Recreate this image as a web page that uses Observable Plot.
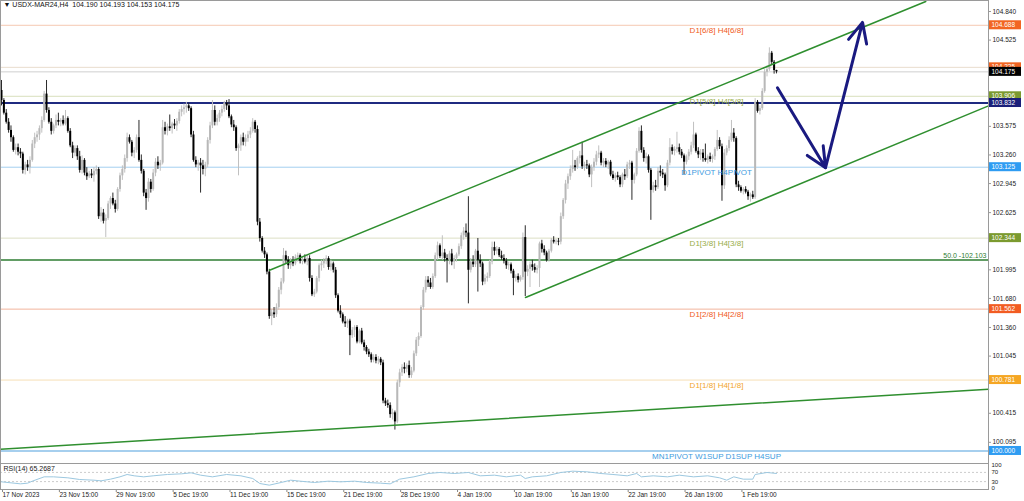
<!DOCTYPE html>
<html><head><meta charset="utf-8">
<script src="https://cdn.jsdelivr.net/npm/d3@7"></script>
<script src="https://cdn.jsdelivr.net/npm/@observablehq/plot@0.6"></script>
<style>
body{margin:0;background:#fff;}
#chart{position:relative;width:1024px;height:501px;overflow:hidden;background:#fff;}
#chart svg{display:block;}
</style></head><body><div id="chart"></div>
<script>
// ---- DATA ----
const symbolTitle = "\u25BC USDX-MAR24,H4\u00a0 104.190 104.193 104.153 104.175";
// H4 candles [open, high, low, close], bar index = position in array
const candles = [
[103.97,104.08,103.80,103.86],[103.86,103.88,103.70,103.72],[103.72,103.76,103.60,103.62],[103.62,103.66,103.50,103.53],[103.53,103.58,103.40,103.45],
[103.45,103.47,103.29,103.31],[103.31,103.38,103.26,103.34],[103.34,103.38,103.25,103.29],[103.29,103.33,103.22,103.27],[103.27,103.29,103.05,103.09],
[103.09,103.18,103.04,103.15],[103.15,103.20,103.08,103.12],[103.12,103.24,103.05,103.20],[103.20,103.42,103.18,103.38],[103.38,103.50,103.33,103.45],
[103.45,103.52,103.40,103.48],[103.48,103.58,103.42,103.55],[103.55,103.68,103.50,103.64],[103.64,103.96,103.62,103.93],[103.93,104.08,103.72,103.75],
[103.75,103.78,103.60,103.62],[103.62,103.66,103.48,103.52],[103.52,103.60,103.49,103.58],[103.58,103.70,103.55,103.64],[103.64,103.72,103.58,103.62],
[103.62,103.66,103.57,103.64],[103.64,103.69,103.58,103.60],[103.60,103.75,103.58,103.66],[103.66,103.68,103.50,103.52],[103.52,103.55,103.34,103.36],
[103.36,103.40,103.22,103.28],[103.28,103.36,103.24,103.33],[103.33,103.36,103.20,103.24],[103.24,103.30,103.06,103.09],[103.09,103.25,103.05,103.20],
[103.20,103.22,103.03,103.06],[103.06,103.12,102.98,103.02],[103.02,103.08,103.00,103.05],[103.05,103.10,103.00,103.03],[103.03,103.12,102.96,103.08],
[103.08,103.14,103.04,103.10],[103.10,103.12,102.55,102.58],[102.58,102.68,102.52,102.62],[102.62,102.66,102.50,102.53],[102.53,102.60,102.35,102.56],
[102.56,102.75,102.54,102.72],[102.72,102.80,102.66,102.78],[102.78,102.84,102.70,102.72],[102.72,102.76,102.62,102.66],[102.66,102.90,102.64,102.88],
[102.88,103.06,102.85,103.03],[103.03,103.14,102.98,103.10],[103.10,103.26,103.06,103.22],[103.22,103.50,103.18,103.45],[103.45,103.48,103.38,103.40],
[103.40,103.42,103.24,103.28],[103.28,103.34,103.22,103.31],[103.31,103.48,103.28,103.45],[103.45,103.64,103.18,103.20],[103.20,103.26,103.05,103.08],
[103.08,103.10,102.80,102.84],[102.84,102.88,102.65,102.78],[102.78,103.00,102.74,102.96],[102.96,102.99,102.84,102.88],[102.88,103.10,102.86,103.06],
[103.06,103.22,103.02,103.18],[103.18,103.24,103.10,103.14],[103.14,103.20,103.08,103.17],[103.17,103.64,103.15,103.56],[103.56,103.62,103.48,103.52],
[103.52,103.60,103.47,103.57],[103.57,103.70,103.52,103.55],[103.55,103.62,103.49,103.60],[103.60,103.65,103.54,103.58],[103.58,103.66,103.52,103.63],
[103.63,103.76,103.60,103.73],[103.73,103.80,103.68,103.76],[103.76,103.82,103.70,103.78],[103.78,103.84,103.72,103.80],[103.80,103.83,103.74,103.77],
[103.77,103.79,103.45,103.48],[103.48,103.52,103.18,103.20],[103.20,103.24,103.12,103.15],[103.15,103.20,103.08,103.17],[103.17,103.22,102.84,103.14],
[103.14,103.20,103.04,103.10],[103.10,103.18,103.02,103.15],[103.15,103.45,103.12,103.42],[103.42,103.62,103.38,103.58],[103.58,103.86,103.55,103.75],
[103.75,103.80,103.58,103.62],[103.62,103.70,103.58,103.66],[103.66,103.75,103.62,103.72],[103.72,103.80,103.68,103.76],[103.76,103.85,103.73,103.83],
[103.83,103.86,103.75,103.80],[103.80,103.87,103.66,103.68],[103.68,103.70,103.56,103.59],[103.59,103.64,103.52,103.56],[103.56,103.58,103.30,103.33],
[103.33,103.38,103.03,103.36],[103.36,103.48,103.30,103.45],[103.45,103.50,103.36,103.40],[103.40,103.48,103.35,103.44],[103.44,103.52,103.40,103.48],
[103.48,103.56,103.44,103.52],[103.52,103.66,103.50,103.62],[103.62,103.64,103.50,103.54],[103.54,103.58,102.48,102.52],[102.52,102.56,102.30,102.34],
[102.34,102.36,102.18,102.20],[102.20,102.24,102.12,102.16],[102.16,102.18,101.94,101.97],[101.97,102.00,101.45,101.48],[101.48,101.56,101.38,101.52],
[101.52,101.58,101.46,101.50],[101.50,101.62,101.47,101.58],[101.58,101.80,101.55,101.77],[101.77,101.90,101.72,101.86],[101.86,102.23,101.84,102.15],
[102.15,102.20,102.06,102.10],[102.10,102.14,102.00,102.04],[102.04,102.12,102.00,102.08],[102.08,102.14,102.03,102.06],[102.06,102.16,102.04,102.13],
[102.13,102.18,102.08,102.15],[102.15,102.17,102.06,102.09],[102.09,102.14,102.05,102.11],[102.11,102.16,102.06,102.08],[102.08,102.15,102.04,102.12],
[102.12,102.15,101.86,101.90],[101.90,101.93,101.70,101.72],[101.72,101.78,101.69,101.75],[101.75,101.92,101.73,101.90],[101.90,102.06,101.86,102.04],
[102.04,102.10,101.98,102.06],[102.06,102.12,102.01,102.09],[102.09,102.15,102.05,102.12],[102.12,102.14,101.99,102.02],[102.02,102.10,101.98,102.06],
[102.06,102.08,101.96,101.99],[101.99,102.02,101.68,101.71],[101.71,101.73,101.52,101.54],[101.54,101.60,101.46,101.50],[101.50,101.52,101.40,101.42],
[101.42,101.48,101.36,101.40],[101.40,101.45,101.35,101.43],[101.43,101.45,101.05,101.27],[101.27,101.36,101.24,101.33],[101.33,101.38,101.25,101.36],
[101.36,101.38,101.18,101.20],[101.20,101.34,101.18,101.32],[101.32,101.35,101.17,101.19],[101.19,101.22,101.10,101.14],[101.14,101.16,101.06,101.09],
[101.09,101.12,101.03,101.06],[101.06,101.08,100.97,101.00],[101.00,101.06,100.97,101.03],[101.03,101.06,100.96,100.99],[100.99,101.04,100.95,101.01],
[101.01,101.03,100.94,100.97],[100.97,101.00,100.52,100.55],[100.55,100.58,100.49,100.52],[100.52,100.56,100.47,100.50],[100.50,100.53,100.36,100.40],
[100.40,100.46,100.34,100.42],[100.42,100.44,100.23,100.32],[100.32,100.78,100.30,100.75],[100.75,100.90,100.70,100.86],[100.86,100.95,100.82,100.92],
[100.92,100.97,100.85,100.90],[100.90,100.96,100.86,100.94],[100.94,100.99,100.80,100.83],[100.83,100.92,100.80,100.88],[100.88,101.10,100.86,101.07],
[101.07,101.25,101.04,101.22],[101.22,101.30,101.15,101.26],[101.26,101.60,101.24,101.58],[101.58,101.80,101.55,101.77],[101.77,101.92,101.74,101.88],
[101.88,101.92,101.80,101.85],[101.85,101.90,101.78,101.80],[101.80,101.95,101.78,101.92],[101.92,102.18,101.90,102.15],[102.15,102.30,102.10,102.26],
[102.26,102.28,102.12,102.14],[102.14,102.37,102.10,102.18],[102.18,102.22,102.08,102.12],[102.12,102.16,101.85,102.10],[102.10,102.20,102.05,102.17],
[102.17,102.22,102.04,102.08],[102.08,102.15,102.00,102.12],[102.12,102.18,102.08,102.16],[102.16,102.28,102.14,102.25],[102.25,102.40,102.22,102.37],
[102.37,102.46,102.32,102.42],[102.42,102.50,102.35,102.40],[102.40,102.80,101.62,101.99],[101.99,102.12,101.96,102.08],[102.08,102.15,102.02,102.05],
[102.05,102.22,102.02,102.20],[102.20,102.34,101.75,102.10],[102.10,102.16,102.02,102.06],[102.06,102.08,101.82,101.86],[101.86,101.94,101.83,101.90],
[101.90,101.96,101.86,101.92],[101.92,102.10,101.90,102.08],[102.08,102.30,102.05,102.24],[102.24,102.30,102.15,102.20],[102.20,102.25,102.16,102.22],
[102.22,102.24,102.13,102.15],[102.15,102.20,102.10,102.12],[102.12,102.16,102.06,102.09],[102.09,102.12,102.00,102.04],[102.04,102.08,101.99,102.05],
[102.05,102.07,101.95,101.98],[101.98,102.00,101.71,101.90],[101.90,101.94,101.86,101.92],[101.92,101.95,101.85,101.88],[101.88,101.93,101.86,101.91],
[101.91,102.40,101.88,102.35],[102.35,102.48,101.70,101.97],[101.97,102.04,101.92,102.00],[102.00,102.08,101.80,102.05],[102.05,102.10,101.98,102.02],
[102.02,102.06,101.96,101.99],[101.99,102.04,101.95,102.01],[102.01,102.30,101.80,102.28],[102.28,102.32,102.18,102.22],[102.22,102.26,102.15,102.18],
[102.18,102.20,102.08,102.10],[102.10,102.22,102.08,102.20],[102.20,102.34,102.18,102.32],[102.32,102.36,102.28,102.30],[102.30,102.33,102.27,102.31],
[102.31,102.34,102.26,102.30],[102.30,102.62,102.27,102.58],[102.58,102.78,102.55,102.76],[102.76,102.98,102.72,102.94],[102.94,103.05,102.88,103.02],
[103.02,103.14,102.98,103.10],[103.10,103.31,103.06,103.14],[103.14,103.20,103.08,103.12],[103.12,103.24,103.10,103.22],[103.22,103.30,103.16,103.25],
[103.25,103.40,103.10,103.13],[103.13,103.18,103.08,103.15],[103.15,103.20,103.10,103.14],[103.14,103.16,103.01,103.04],[103.04,103.15,102.90,103.12],
[103.12,103.22,103.08,103.18],[103.18,103.30,103.14,103.26],[103.26,103.36,103.22,103.28],[103.28,103.30,103.14,103.17],[103.17,103.22,103.12,103.19],
[103.19,103.22,103.12,103.15],[103.15,103.20,103.10,103.18],[103.18,103.20,103.02,103.04],[103.04,103.08,102.98,103.00],[103.00,103.06,102.96,103.03],
[103.03,103.07,102.98,103.01],[103.01,103.03,102.90,102.93],[102.93,103.06,102.90,103.04],[103.04,103.10,102.98,103.02],[103.02,103.18,103.00,103.15],
[103.15,103.20,103.10,103.17],[103.17,103.19,102.76,102.98],[102.98,103.06,102.94,103.04],[103.04,103.33,103.02,103.30],[103.30,103.56,103.28,103.52],
[103.52,103.58,103.28,103.31],[103.31,103.34,103.18,103.22],[103.22,103.28,103.16,103.24],[103.24,103.26,103.06,103.09],[103.09,103.11,102.54,102.87],
[102.87,102.96,102.84,102.92],[102.92,102.98,102.86,102.90],[102.90,103.12,102.88,103.08],[103.08,103.14,103.02,103.06],[103.06,103.10,103.00,103.04],
[103.04,103.06,102.86,102.92],[102.92,103.20,102.90,103.17],[103.17,103.44,103.14,103.34],[103.34,103.37,103.26,103.30],[103.30,103.35,103.25,103.32],
[103.32,103.51,103.28,103.34],[103.34,103.38,103.26,103.29],[103.29,103.32,103.22,103.25],[103.25,103.27,103.04,103.18],[103.18,103.26,103.15,103.24],
[103.24,103.32,103.20,103.29],[103.29,103.40,103.26,103.36],[103.36,103.62,103.33,103.48],[103.48,103.50,103.28,103.30],[103.30,103.34,103.22,103.26],
[103.26,103.32,103.20,103.28],[103.28,103.32,103.18,103.22],[103.22,103.38,103.18,103.20],[103.20,103.26,103.16,103.24],[103.24,103.28,103.18,103.21],
[103.21,103.26,103.17,103.24],[103.24,103.34,103.20,103.32],[103.32,103.53,103.30,103.42],[103.42,103.45,103.32,103.35],[103.35,103.38,102.75,102.92],
[102.92,103.32,102.88,103.28],[103.28,103.36,103.25,103.33],[103.33,103.46,103.30,103.42],[103.42,103.64,103.40,103.50],[103.50,103.55,103.40,103.44],
[103.44,103.46,102.90,102.93],[102.93,102.97,102.86,102.90],[102.90,102.92,102.84,102.86],[102.86,102.90,102.82,102.88],[102.88,102.91,102.83,102.85],
[102.85,102.87,102.76,102.80],[102.80,102.84,102.74,102.82],[102.82,102.86,102.77,102.79],[102.79,103.88,102.77,103.84],[103.84,103.86,103.72,103.74],
[103.74,103.80,103.70,103.77],[103.77,103.99,103.75,103.96],[103.96,104.20,103.94,104.17],[104.17,104.24,104.12,104.20],[104.20,104.44,104.18,104.38],
[104.38,104.40,104.25,104.28],[104.28,104.30,104.15,104.19],[104.190,104.193,104.153,104.175]
];
const dateTicks = [0,24,48,72,96,120,144,168,192,216,240,264,288,312];
const dateLabels = ["17 Nov 2023","23 Nov 15:00","29 Nov 19:00","5 Dec 19:00","11 Dec 19:00","15 Dec 19:00","21 Dec 19:00","28 Dec 19:00","4 Jan 19:00","10 Jan 19:00","16 Jan 19:00","22 Jan 19:00","26 Jan 19:00","1 Feb 19:00"];
const priceTicks = [104.840,104.525,103.575,103.260,102.945,102.625,101.995,101.680,101.360,101.045,100.415,100.095];
const levelLines = [104.688,104.225,104.175,103.906,103.832,103.125,102.344,102.103,101.562,100.781,100.000];
const boxValues = [104.688,104.225,104.175,103.906,103.832,103.125,102.344,101.562,100.781,100.000];
const levelTexts = ["D1[6/8] H4[6/8]","D1[5/8] H4[5/8]","D1PIVOT H4PIVOT","D1[3/8] H4[3/8]","D1[2/8] H4[2/8]","D1[1/8] H4[1/8]","MN1PIVOT W1SUP D1SUP H4SUP"];
const levelTextValues = [104.688,103.906,103.125,102.344,101.562,100.781,100.000];
const levelTextBar = 301.7;
const fiboLevel = 102.103, fiboText = "50.0 -102.103";
// trend lines: [bar, price] anchors
const upperChannel = [[113.1,101.99],[390.0,104.95]];
const lowerChannel = [[221.1,101.69],[416.46,103.80]];
const longSupport = [[-0.42,100.02],[416.46,100.68]];
const forecastPath = [[327.4,104.00],[347.7,103.12],[363.3,104.72]];
// RSI(14)
const rsiLabel = "RSI(14) 65.2687";
const rsiBars = [0,4,8,11,13,18,22,28,33,39,42,46,50,53,56,60,64,70,76,80,84,89,95,101,106,109,113,118,122,126,132,138,143,149,154,160,164,168,174,180,185,191,197,202,208,213,219,221,224,230,236,241,247,253,258,264,268,270,275,281,286,292,298,303,306,309,313,317,318,323,327];
const rsiValues = [29,24.6,20.3,23.2,31.9,50.7,50.7,46.4,39.1,36.2,33.3,40.6,50.7,60.9,55.1,50.7,55.1,60.9,63.8,68.1,58,50.7,60.9,55.1,43.5,21.7,14.5,26.1,36.2,31.9,26.1,31.9,29,31.9,26.1,23.2,20.3,40.6,50.7,65.2,69.6,65.2,69.6,55.1,58,50.7,58,43.5,50.7,55.1,69.6,75.4,72.5,65.2,60.9,55.1,65.2,50.7,55.1,50.7,58,50.7,55.1,46.4,36.2,50.7,40.6,40.6,60.9,69.6,65.3];
const rsiLevels = [30,70];
const rsiTicks = [0,30,70,100];

// ---- STYLES ----
const W = 1024, MR = 36, PH = 463, RH = 38;
const xDomain = [-0.42, 416.46];
const yDomain = [99.862, 104.961];
const FONT = "'Liberation Sans', Arial, sans-serif";
const lineStyle = {
 "104.688":["#f5c8b2",1], "104.225":["#e9dccd",1], "104.175":["#cfcfcf",1], "103.906":["#d8dfbc",1],
 "103.832":["#1f2a80",2], "103.125":["#a4cff0",1], "102.344":["#dcdfc4",1], "102.103":["#2e7d32",1.5],
 "101.562":["#f2b59c",1], "100.781":["#f6dfb5",1], "100.000":["#a6cfee",2]
};
const boxFill = {
 "104.688":"#f26522","104.225":"#f26522","104.175":"#000000","103.906":"#7b9a2f","103.832":"#1a1f7a",
 "103.125":"#2f9cf2","102.344":"#7b9a2f","101.562":"#f25c22","100.781":"#f5a623","100.000":"#2f9cf2"
};
const textFill = ["#f05a22","#98ad48","#3d9be0","#98ad48","#f05a22","#f2a52b","#3d9be0"];

const bars = candles.map(([o,h,l,c],i)=>({i,o,h,l,c}));
const up = bars.filter(d=>d.c>=d.o), down = bars.filter(d=>d.c<d.o);
const toPts = a => a.map(([x,y])=>({x,y}));

const marks = [];
levelLines.forEach(v=>{const [s,w]=lineStyle[v.toFixed(3)]; marks.push(Plot.ruleY([v],{stroke:s,strokeWidth:w}));});
marks.push(
 Plot.ruleX(up,{x:"i",y1:"l",y2:"h",stroke:"#c0c0c0",strokeWidth:1}),
 Plot.ruleX(up,{x:"i",y1:"o",y2:"c",stroke:"#b8b8b8",strokeWidth:2}),
 Plot.ruleX(down,{x:"i",y1:"l",y2:"h",stroke:"#2a2a2a",strokeWidth:1}),
 Plot.ruleX(down,{x:"i",y1:"o",y2:"c",stroke:"#000",strokeWidth:2}),
 Plot.line(toPts(upperChannel),{x:"x",y:"y",stroke:"#2f8f2f",strokeWidth:1.5}),
 Plot.line(toPts(lowerChannel),{x:"x",y:"y",stroke:"#2f8f2f",strokeWidth:1.5}),
 Plot.line(toPts(longSupport),{x:"x",y:"y",stroke:"#2f8f2f",strokeWidth:1.5}),
 Plot.arrow([0,1].map(k=>({x1:forecastPath[k][0],y1:forecastPath[k][1],x2:forecastPath[k+1][0],y2:forecastPath[k+1][1]})),
   {x1:"x1",y1:"y1",x2:"x2",y2:"y2",stroke:"#1a1a80",strokeWidth:3,headLength:11,headAngle:50}),
 Plot.text(levelTexts.map((t,k)=>({t,v:levelTextValues[k],k})),{x:()=>levelTextBar,y:"v",text:"t",fill:d=>textFill[d.k],dy:5,fontSize:8}),
 Plot.text([fiboText],{y:()=>fiboLevel,frameAnchor:"right",textAnchor:"end",dx:-2,dy:-4,fill:"#2e7d32",fontSize:7}),
 Plot.text([symbolTitle],{frameAnchor:"top-left",dx:3,dy:2,fill:"#111",fontSize:7}),
 Plot.axisY(priceTicks,{anchor:"right",label:null,tickSize:2,tickPadding:2,tickFormat:d3.format(".3f"),fontSize:6.5,fill:"#222",stroke:"#999"}),
 Plot.frame({stroke:"#9a9a9a"})
);
const pricePlot = Plot.plot({
 width:W,height:PH,marginTop:0,marginRight:MR,marginBottom:0,marginLeft:0,
 x:{type:"linear",domain:xDomain,axis:null,label:null},
 y:{type:"linear",domain:yDomain,axis:null,label:null},
 color:{type:"identity"},
 style:{fontFamily:FONT,fontSize:"8px",background:"white",overflow:"visible"},
 marks
});
// right-side price label boxes, positioned through the plot's y scale
const ys = pricePlot.scale("y");
const sel = d3.select(pricePlot);
const bx = W - MR + 1;
boxValues.forEach(v=>{
 const y = ys.apply(v);
 const g = sel.append("g").attr("text-anchor","start");
 g.append("rect").attr("x",bx).attr("y",y-4.5).attr("width",32).attr("height",9).attr("fill",boxFill[v.toFixed(3)]);
 g.append("text").attr("x",bx+2.5).attr("y",y+2.3).attr("text-anchor","start").attr("fill","#fff").attr("font-size","6.5px").attr("font-family",FONT).text(v.toFixed(3));
});

const rsiData = rsiBars.map((b,k)=>({b,r:rsiValues[k]}));
const labelMap = new Map(dateTicks.map((t,k)=>[t,dateLabels[k]]));
const rsiPlot = Plot.plot({
 width:W,height:RH,marginTop:0,marginRight:MR,marginBottom:12,marginLeft:0,insetTop:2,insetBottom:1,
 x:{type:"linear",domain:xDomain,axis:null,label:null},
 y:{domain:[0,100],axis:null,label:null},
 style:{fontFamily:FONT,fontSize:"7px",background:"white",overflow:"visible"},
 marks:[
  Plot.ruleY(rsiLevels,{stroke:"#cccccc",strokeDasharray:"2,2"}),
  Plot.line(rsiData,{x:"b",y:"r",stroke:"#9cc8e0",strokeWidth:1}),
  Plot.text([rsiLabel],{frameAnchor:"top-left",dx:3,dy:2.5,fill:"#222",fontSize:7}),
  Plot.axisY(rsiTicks,{anchor:"right",label:null,tickSize:0,tickPadding:3,fontSize:6,fill:"#222"}),
  Plot.axisX(dateTicks,{anchor:"bottom",label:null,tickSize:3,tickPadding:0,tickFormat:d=>labelMap.get(d),textAnchor:"start",dx:1,fontSize:6.5,fill:"#222",stroke:"#888"}),
  Plot.frame({stroke:"#9a9a9a"})
 ]
});
const root = document.getElementById("chart");
root.appendChild(pricePlot);
root.appendChild(rsiPlot);
</script>
</body></html>
